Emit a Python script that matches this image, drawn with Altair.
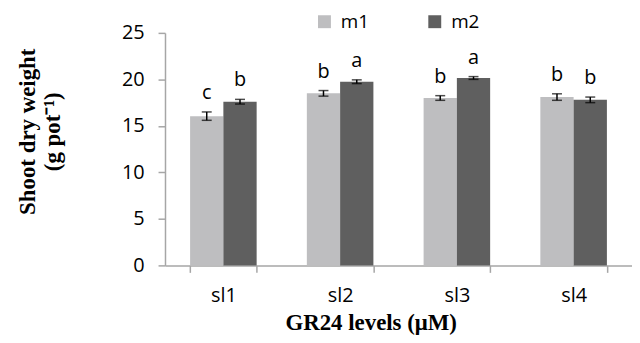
import altair as alt
import pandas as pd

levels = ["sl1", "sl2", "sl3", "sl4"]
series = ["m1", "m2"]
m1_vals = [16.05, 18.5, 18.0, 18.1]
m1_err = [0.45, 0.3, 0.25, 0.35]
m1_letters = ["c", "b", "b", "b"]
m2_vals = [17.6, 19.75, 20.15, 17.8]
m2_err = [0.25, 0.2, 0.15, 0.3]
m2_letters = ["b", "a", "a", "b"]

rows = []
for i, lv in enumerate(levels):
    rows.append({"level": lv, "series": "m1", "value": m1_vals[i], "err": m1_err[i], "letter": m1_letters[i]})
    rows.append({"level": lv, "series": "m2", "value": m2_vals[i], "err": m2_err[i], "letter": m2_letters[i]})
df = pd.DataFrame(rows)

SANS = "Open Sans"
SERIF = "Liberation Serif"
AXIS_COLOR = "#A6A6A6"

x_enc = alt.X(
    "level:N",
    sort=levels,
    scale=alt.Scale(paddingInner=0.43, paddingOuter=0.215),
    axis=alt.Axis(
        title="GR24 levels (μM)",
        titleFont=SERIF, titleFontSize=23, titleFontWeight="bold", titleColor="#000000",
        titleX=207, titleY=65, titleAlign="center", titleBaseline="alphabetic", titleAnchor="start",
        labelFont=SANS, labelFontSize=20, labelColor="#000000", labelPadding=13, labelAngle=0,
        tickBand="extent", tickSize=7, tickColor=AXIS_COLOR, domainColor=AXIS_COLOR,
        domainWidth=1.5, tickWidth=1.5,
    ),
)
xoff = alt.XOffset("series:N", sort=series, scale=alt.Scale(paddingInner=0, paddingOuter=0))
y_scale = alt.Scale(domain=[0, 25], nice=False)
y_axis = alt.Axis(
    title=["Shoot dry weight", "(g pot⁻¹)"],
    titleFont=SERIF, titleFontSize=23, titleFontWeight="bold", titleColor="#000000",
    titleAngle=270, titleX=-149, titleY=99, titleAlign="center", titleBaseline="top",
    titleLineHeight=25, titleAnchor="start",
    values=[0, 5, 10, 15, 20, 25],
    labelFont=SANS, labelFontSize=20, labelColor="#000000", labelPadding=14,
    tickSize=7, tickColor=AXIS_COLOR, domainColor=AXIS_COLOR, domainWidth=1.5, tickWidth=1.5,
    grid=False,
)

base = alt.Chart(df)

bars = base.mark_bar().encode(
    x=x_enc,
    xOffset=xoff,
    y=alt.Y("value:Q", scale=y_scale, axis=y_axis),
    color=alt.Color(
        "series:N",
        sort=series,
        scale=alt.Scale(domain=series, range=["#BEBEC0", "#5F5F5F"]),
        legend=alt.Legend(
            title=None, orient="none", direction="horizontal",
            legendX=151, legendY=-21, padding=0,
            symbolType="square", symbolSize=169, symbolStrokeWidth=0,
            labelFont=SANS, labelFontSize=19, labelColor="#000000", labelOffset=7,
            columnPadding=56,
        ),
    ),
)

err = base.transform_calculate(
    lo="datum.value - datum.err", hi="datum.value + datum.err"
)

rules = err.mark_rule(color="#000000", strokeWidth=1.5).encode(
    x="level:N", xOffset=xoff, y="lo:Q", y2="hi:Q"
)
caps_hi = err.mark_tick(color="#000000", thickness=1.5, size=10, orient="horizontal").encode(
    x="level:N", xOffset=xoff, y="hi:Q"
)
caps_lo = err.mark_tick(color="#000000", thickness=1.5, size=10, orient="horizontal").encode(
    x="level:N", xOffset=xoff, y="lo:Q"
)
letters = err.mark_text(font=SANS, fontSize=20, color="#000000", baseline="alphabetic", dy=-13).encode(
    x="level:N", xOffset=xoff, y="hi:Q", text="letter:N"
)

chart = alt.layer(bars, rules, caps_hi, caps_lo, letters).properties(
    width=470, height=234,
    autosize=alt.AutoSizeParams(type="none"),
    padding={"left": 158, "top": 24, "right": 0, "bottom": 69},
).configure_view(stroke=None)

chart.save("out.html", embed_options={"renderer": "svg", "actions": False})
